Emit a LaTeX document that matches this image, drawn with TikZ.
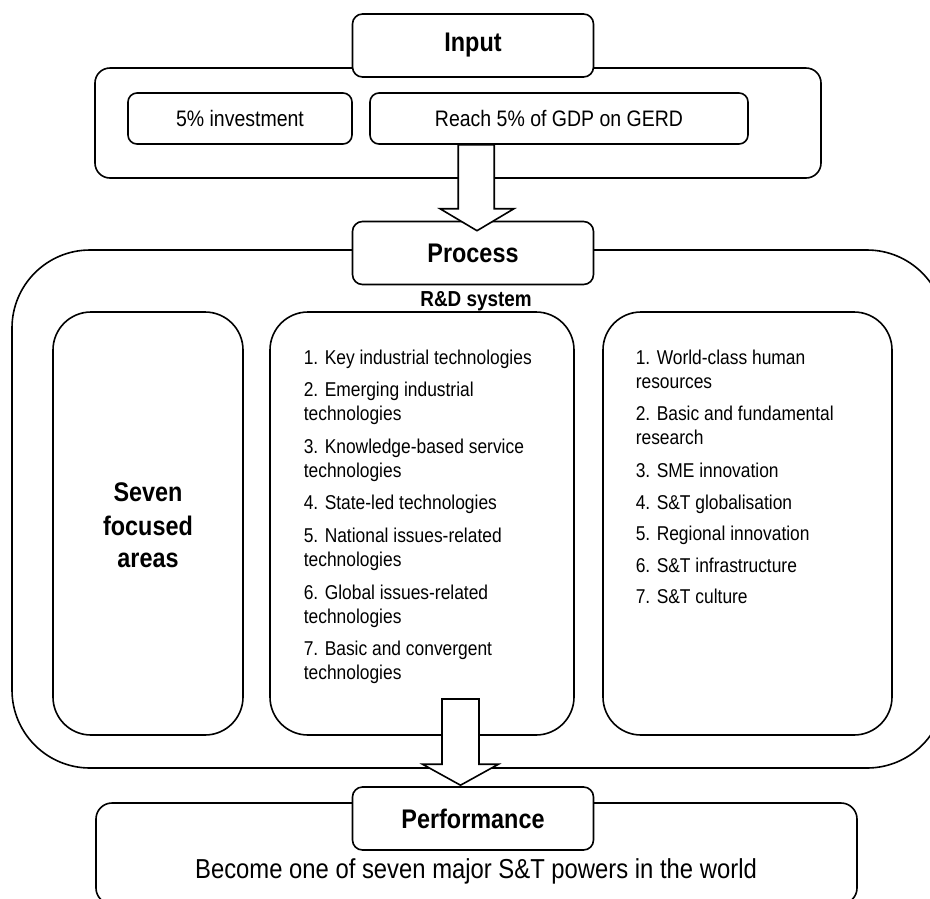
\documentclass[tikz,border=0pt]{standalone}
\usepackage{fontspec}
\setmainfont{Liberation Sans}[FakeStretch=0.87]
\usetikzlibrary{calc}
\begin{document}
\begin{tikzpicture}[x=1pt,y=-1pt,line width=1.6pt,
  box/.style={draw,rounded corners=#1,inner sep=0pt},
  labelbox/.style={box=10,fill=white,minimum width=241pt,minimum height=63pt,
    font=\fontsize{26.9}{30}\selectfont\bfseries},
  smallbox/.style={box=9,fill=white,minimum height=51pt,font=\fontsize{22.4}{26}\selectfont},
  inner/.style={box=38,minimum height=423pt},
  item/.style={anchor=base west,inner sep=0pt,font=\fontsize{20}{24}\selectfont},
  bigtitle/.style={anchor=base,inner sep=0pt,font=\fontsize{26.9}{30}\selectfont\bfseries},
  blockarrow/.style={draw,fill=white,line join=miter}]
\useasboundingbox (0,0) rectangle (930,898);
\clip (0,0) rectangle (930,898);
\fill[white] (0,0) rectangle (930,898);

% ---------- Input ----------
\node[box=15,minimum width=726pt,minimum height=110pt] (inouter) at (458,123) {};
\node[labelbox] (input) at (473,45.5) {Input};
\node[smallbox,minimum width=224pt] (inv) at (240,118.5) {5\% investment};
\node[smallbox,minimum width=378pt] (gerd) at (559,118.5) {Reach 5\% of GDP on GERD};

% ---------- Process ----------
\node[box=78,minimum width=933pt,minimum height=518pt] (procouter) at (478.5,509) {};
\node[labelbox] (process) at (473,253) {Process};
\node[inner sep=0pt,font=\fontsize{21.7}{25}\selectfont\bfseries] (rd) at (476,301) {R\&D system};

\node[inner,minimum width=190pt] (left) at (148,523.5) {};
\node[inner,minimum width=304pt] (mid) at (422,523.5) {};
\node[inner,minimum width=289pt] (right) at (747.5,523.5) {};

\node[bigtitle] (s1) at (148,501) {Seven};
\node[bigtitle] (s2) at (148,535) {focused};
\node[bigtitle] (s3) at (148,567) {areas};

\foreach \yy/\tt [count=\i] in {
  364/{1. Key industrial technologies},
  396/{2. Emerging industrial},
  420/{technologies},
  453/{3. Knowledge-based service},
  477/{technologies},
  509/{4. State-led technologies},
  542/{5. National issues-related},
  566/{technologies},
  599/{6. Global issues-related},
  623/{technologies},
  655/{7. Basic and convergent},
  679/{technologies}}
  \node[item] (m\i) at (303,\yy) {\tt};

\foreach \yy/\tt [count=\i] in {
  364/{1. World-class human},
  388/{resources},
  420/{2. Basic and fundamental},
  444/{research},
  477/{3. SME innovation},
  509/{4. S\&T globalisation},
  540/{5. Regional innovation},
  572/{6. S\&T infrastructure},
  603/{7. S\&T culture}}
  \node[item] (r\i) at (635,\yy) {\tt};

% ---------- Performance ----------
\node[box=16,minimum width=761pt,minimum height=101pt] (perfouter) at (476.5,853.5) {};
\node[labelbox] (perf) at (473,818.5) {Performance};
\node[anchor=base,inner sep=0pt,font=\fontsize{27.4}{30}\selectfont] (goal) at (476,878)
  {Become one of seven major S\&T powers in the world};

% ---------- Block arrows ----------
\coordinate (a1s) at ($(gerd.south west)+(107,0)$);
\coordinate (a1t) at ($(process.north)+(4,10)$);
\draw[blockarrow] ($(a1s)+(-18,0)$) -- ($(a1s|-a1t)+(-18,-22)$) -- ($(a1t)+(-37,-22)$)
  -- (a1t) -- ($(a1t)+(37,-22)$) -- ($(a1s|-a1t)+(18,-22)$) -- ($(a1s)+(18,0)$) -- cycle;

\coordinate (a2s) at (460.5,699);
\coordinate (a2t) at ($(perf.north)+(-12.5,-1)$);
\draw[blockarrow] ($(a2s)+(-18.5,0)$) -- ($(a2s|-a2t)+(-18.5,-21)$) -- ($(a2t)+(-38,-21)$)
  -- (a2t) -- ($(a2t)+(38,-21)$) -- ($(a2s|-a2t)+(18.5,-21)$) -- ($(a2s)+(18.5,0)$) -- cycle;
\end{tikzpicture}
\end{document}
